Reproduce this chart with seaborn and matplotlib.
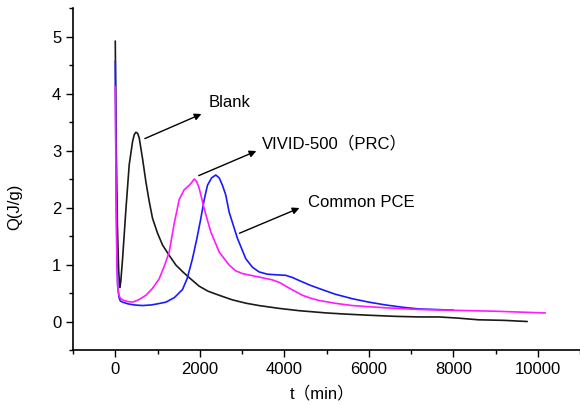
import numpy as np
import matplotlib
matplotlib.use("Agg")
import matplotlib.pyplot as plt
import seaborn as sns
from matplotlib.ticker import MultipleLocator

# data (t in min, Q in J/g)
blank_t = [0, 20, 50, 80, 100, 110, 130, 173, 253, 330,
           410, 450, 490, 530, 567, 645, 725, 800, 882, 1000,
           1120, 1277, 1435, 1600, 1750, 1985, 2200, 2460, 2770, 3100,
           3400, 3880, 4350, 5000, 5450, 6000, 6640, 7200, 7660, 8100,
           8600, 9200, 9750]
blank_q = [4.92, 3.2, 1.7, 0.9, 0.66, 0.60, 0.70, 1.10, 1.98, 2.75,
           3.16, 3.28, 3.32, 3.30, 3.22, 2.86, 2.45, 2.12, 1.81, 1.55,
           1.34, 1.16, 0.99, 0.87, 0.77, 0.62, 0.53, 0.46, 0.38, 0.32,
           0.28, 0.23, 0.19, 0.15, 0.13, 0.11, 0.09, 0.08, 0.08, 0.06,
           0.03, 0.02, 0.0]

vivid_t = [0, 20, 40, 55, 80, 110, 135, 200, 300, 410,
           550, 725, 880, 1040, 1160, 1277, 1395, 1513, 1630, 1750,
           1810, 1868, 1930, 1986, 2104, 2262, 2459, 2695, 2850, 3010,
           3404, 3720, 3900, 4035, 4230, 4430, 4620, 4820, 5200, 5610,
           6000, 6400, 7190, 7820, 9000, 10180]
vivid_q = [4.12, 2.2, 1.0, 0.63, 0.48, 0.42, 0.40, 0.37, 0.35, 0.34,
           0.38, 0.46, 0.58, 0.75, 0.97, 1.22, 1.72, 2.14, 2.31, 2.39,
           2.44, 2.50, 2.45, 2.34, 1.98, 1.57, 1.22, 0.99, 0.89, 0.84,
           0.78, 0.73, 0.68, 0.62, 0.54, 0.46, 0.41, 0.37, 0.32, 0.28,
           0.26, 0.24, 0.21, 0.20, 0.18, 0.15]

pce_t = [0, 20, 40, 60, 90, 120, 173, 300, 450, 645,
         850, 1000, 1200, 1400, 1590, 1700, 1827, 1930, 2026, 2100,
         2182, 2280, 2380, 2460, 2537, 2615, 2695, 2891, 3090, 3250,
         3404, 3600, 3800, 4035, 4200, 4350, 4600, 4820, 5200, 5610,
         6000, 6400, 6800, 7190, 7600, 8000]
pce_q = [4.57, 2.4, 1.1, 0.6, 0.42, 0.36, 0.34, 0.31, 0.29, 0.28,
         0.29, 0.31, 0.34, 0.42, 0.56, 0.75, 1.10, 1.45, 1.81, 2.12,
         2.39, 2.52, 2.57, 2.52, 2.39, 2.22, 1.92, 1.46, 1.10, 0.95,
         0.87, 0.83, 0.82, 0.81, 0.77, 0.72, 0.64, 0.58, 0.48, 0.40,
         0.34, 0.29, 0.25, 0.22, 0.21, 0.20]

# annotation text, arrow tail (on curve) and head
labels = ["Blank", "VIVID-500（PRC）", "Common PCE"]
arrow_tail = [(640, 3.19), (1915, 2.54), (2880, 1.53)]
arrow_head = [(2100, 3.66), (3400, 3.01), (4420, 2.01)]
label_pos = [(2200, 3.84), (3480, 3.13), (4560, 2.08)]

sns.set_style("ticks")
plt.rcParams["font.family"] = ["Liberation Sans", "Noto Sans CJK SC", "DejaVu Sans"]
plt.rcParams["font.size"] = 12
for key in ["text.color", "axes.labelcolor", "xtick.color", "ytick.color", "axes.edgecolor"]:
    plt.rcParams[key] = "black"

fig = plt.figure(figsize=(5.8, 4.05), dpi=100)
ax = fig.add_axes([0.1259, 0.1358, 0.8741, 0.8444])

sns.lineplot(x=blank_t, y=blank_q, color="#1a1a1a", lw=1.2, ax=ax)
sns.lineplot(x=pce_t, y=pce_q, color="#1a1aff", lw=1.2, ax=ax)
sns.lineplot(x=vivid_t, y=vivid_q, color="#ff1aff", lw=1.2, ax=ax)

for txt, tail, head, pos in zip(labels, arrow_tail, arrow_head, label_pos):
    ax.annotate("", xy=head, xytext=tail,
                arrowprops=dict(arrowstyle="-|>", color="black", lw=1.0, mutation_scale=10))
    ax.text(pos[0], pos[1], txt, ha="left", va="center", fontsize=12)

ax.set_xlim(-1000, 11000)
ax.set_ylim(-0.5, 5.5)
ax.xaxis.set_major_locator(MultipleLocator(2000))
ax.xaxis.set_minor_locator(MultipleLocator(1000))
ax.yaxis.set_major_locator(MultipleLocator(1))
ax.yaxis.set_minor_locator(MultipleLocator(0.5))
ax.tick_params(which="major", length=5, width=1, labelsize=12)
ax.tick_params(which="minor", length=3, width=1)

for s in ["top", "right"]:
    ax.spines[s].set_visible(False)
for s in ["left", "bottom"]:
    ax.spines[s].set_linewidth(1.2)

ax.set_ylabel("Q(J/g)", fontsize=12)
ax.set_xlabel("t（min）", fontsize=12)
ax.yaxis.set_label_coords(-0.10, 0.418)
ax.xaxis.set_label_coords(0.491, -0.105)

fig.savefig("out.png", dpi=100)
